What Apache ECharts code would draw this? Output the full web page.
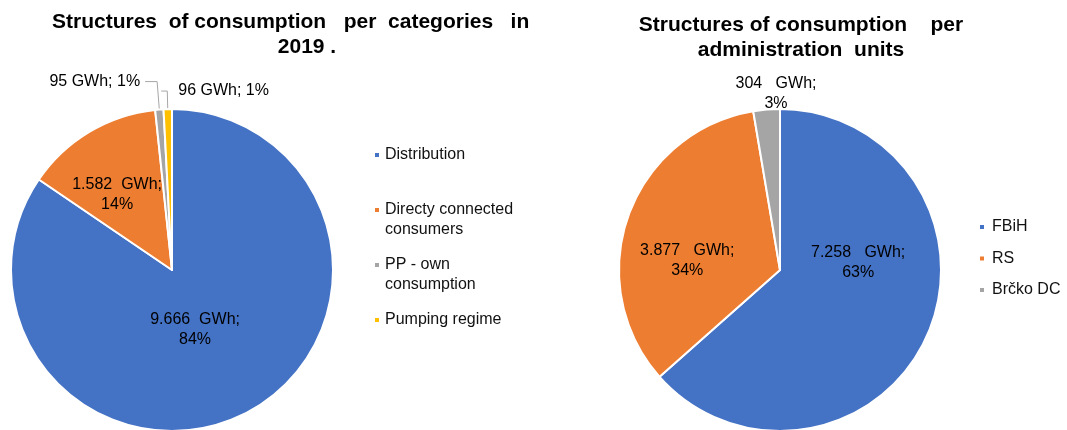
<!DOCTYPE html>
<html><head><meta charset="utf-8">
<script src="https://cdn.jsdelivr.net/npm/echarts@6/dist/echarts.min.js"></script>
<style>
html,body{margin:0;padding:0;background:#fff;}
#wrap{position:relative;width:1067px;height:430px;overflow:hidden;background:#fff;}
#c1{position:absolute;left:0;top:0;width:539px;height:430px;}
#c2{position:absolute;left:540px;top:0;width:527px;height:430px;}
</style></head><body>
<div id="wrap"><div id="c1"></div><div id="c2"></div></div>
<script>
// ---- data ----
const categories = ['Distribution', 'Directy connected\nconsumers', 'PP - own\nconsumption', 'Pumping regime'];
const categoryValues = [9666, 1582, 95, 96];          // GWh
const categoryPercentLabels = [84, 14, 1, 1];         // % as printed
const units = ['FBiH', 'RS', 'Brčko DC'];
const unitValues = [7258, 3877, 304];                 // GWh
const unitPercentLabels = [63, 34, 3];                // % as printed
const leftTitleLine1 = 'Structures  of consumption   per  categories   in  2';
const leftTitleLine2 = '2019 .';
const rightTitle = 'Structures of consumption    per\nadministration  units';

// ---- styling ----
const F = '"Liberation Sans", Arial, sans-serif';
const colorsLeft = ['#4472C4', '#ED7D31', '#A5A5A5', '#FFC000'];
const colorsRight = ['#4472C4', '#ED7D31', '#A5A5A5'];
const fmtNum = v => String(v).replace(/\B(?=(\d{3})+(?!\d))/g, '.');

const titleStyle = {fontSize: 21, fontWeight: 'bold', fontFamily: F, color: '#000', lineHeight: 25};
const legendText = {fontSize: 16, fontFamily: F, color: '#111', lineHeight: 20};

// ---------- left chart ----------
const c1 = echarts.init(document.getElementById('c1'), null, {renderer: 'canvas'});
const leftOffsets = [[-16, -14], [-12, -4], [0, 0], [22, 0]];
const legendTops = [145, 180, 235, 310];
c1.setOption({
  animation: false,
  title: [
    {text: leftTitleLine1, left: 52, top: 10, padding: 0, textStyle: titleStyle},
    {text: leftTitleLine2, left: 307, top: 35, padding: 0, textAlign: 'center', textStyle: titleStyle}
  ],
  legend: categories.map((n, i) => ({
    data: [n], left: 373, top: legendTops[i], padding: 0, selectedMode: false,
    icon: 'rect', itemWidth: 6, itemHeight: 6,
    // two-line entries: blank line on top so the marker sits beside the first line
    formatter: name => (name.indexOf('\n') >= 0 ? '\n' + name : name),
    textStyle: legendText
  })),
  series: [{
    type: 'pie', center: [172, 270], radius: 161, startAngle: 90, clockwise: true,
    avoidLabelOverlap: false,
    itemStyle: {borderColor: '#fff', borderWidth: 2},
    label: {
      position: 'inside', fontSize: 16, lineHeight: 20, fontFamily: F, color: '#000',
      formatter: p => fmtNum(p.value) + '  GWh;\n' + categoryPercentLabels[p.dataIndex] + '%'
    },
    labelLine: {show: false},
    labelLayout: p => {
      const o = leftOffsets[p.dataIndex];
      const r = {dx: o[0], dy: o[1]};
      if (p.dataIndex === 3) r.align = 'left';
      return r;
    },
    emphasis: {disabled: true},
    data: categories.map((n, i) => {
      const d = {name: n, value: categoryValues[i], itemStyle: {color: colorsLeft[i]}};
      if (i >= 2) {
        d.label = {position: 'outside', formatter: p => fmtNum(p.value) + ' GWh; ' + categoryPercentLabels[p.dataIndex] + '%'};
        d.labelLine = {show: true, length: i === 2 ? 28 : 18, length2: i === 2 ? 12 : 6, lineStyle: {color: '#A6A6A6', width: 1}};
      }
      return d;
    })
  }]
});

// ---------- right chart ----------
const c2 = echarts.init(document.getElementById('c2'), null, {renderer: 'canvas'});
const rightOffsets = [[2, -42], [-14, 18], [3, -93]];
c2.setOption({
  animation: false,
  title: {text: rightTitle, left: 261, top: 13, padding: 0, textAlign: 'center', textStyle: titleStyle},
  legend: {
    data: units, orient: 'vertical', left: 438, top: 217, itemGap: 11.5, padding: 0, selectedMode: false,
    icon: 'rect', itemWidth: 6, itemHeight: 6,
    textStyle: Object.assign({}, legendText, {padding: [0, 0, 0, 2]})
  },
  series: [{
    type: 'pie', center: [240, 270], radius: 161, startAngle: 90, clockwise: true,
    avoidLabelOverlap: false,
    itemStyle: {borderColor: '#fff', borderWidth: 2},
    label: {
      position: 'inside', fontSize: 16, lineHeight: 20, fontFamily: F, color: '#000',
      formatter: p => fmtNum(p.value) + '   GWh;\n' + unitPercentLabels[p.dataIndex] + '%'
    },
    labelLine: {show: false},
    labelLayout: p => ({dx: rightOffsets[p.dataIndex][0], dy: rightOffsets[p.dataIndex][1]}),
    emphasis: {disabled: true},
    data: units.map((n, i) => ({name: n, value: unitValues[i], itemStyle: {color: colorsRight[i]}}))
  }]
});
</script>
</body></html>
